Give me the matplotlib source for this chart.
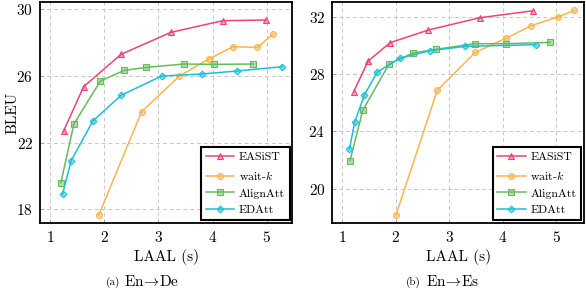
import matplotlib
matplotlib.use("Agg")
import matplotlib.pyplot as plt

plt.rcParams["font.family"] = ["cmr10", "DejaVu Serif"]
plt.rcParams["mathtext.fontset"] = "cm"
plt.rcParams["axes.formatter.use_mathtext"] = True

names = ["EASiST", "wait-$k$", "AlignAtt", "EDAtt"]
colors = ["#ee4379", "#fdb44e", "#67bb5d", "#1cbfd9"]
markers = ["^", "o", "s", "D"]

# En->De
de_easist_x = [1.25, 1.62, 2.31, 3.23, 4.19, 4.98]
de_easist_y = [22.70, 25.36, 27.30, 28.62, 29.32, 29.36]
de_waitk_x = [1.90, 2.69, 3.39, 3.94, 4.38, 4.83, 5.11]
de_waitk_y = [17.66, 23.86, 26.00, 27.04, 27.76, 27.72, 28.50]
de_align_x = [1.20, 1.44, 1.93, 2.37, 2.78, 3.47, 4.03, 4.75]
de_align_y = [19.60, 23.12, 25.70, 26.34, 26.52, 26.72, 26.70, 26.72]
de_edatt_x = [1.23, 1.39, 1.79, 2.31, 3.06, 3.80, 4.45, 5.29]
de_edatt_y = [18.90, 20.92, 23.30, 24.84, 26.00, 26.12, 26.30, 26.56]

# En->Es
es_easist_x = [1.22, 1.49, 1.90, 2.61, 3.57, 4.57]
es_easist_y = [26.77, 28.91, 30.19, 31.07, 31.93, 32.42]
es_waitk_x = [2.01, 2.78, 3.49, 4.07, 4.53, 5.04, 5.34]
es_waitk_y = [18.16, 26.86, 29.51, 30.51, 31.37, 32.00, 32.44]
es_align_x = [1.15, 1.39, 1.88, 2.33, 2.75, 3.48, 4.07, 4.89]
es_align_y = [21.95, 25.47, 28.70, 29.47, 29.72, 30.12, 30.12, 30.21]
es_edatt_x = [1.14, 1.24, 1.42, 1.66, 2.08, 2.64, 3.30, 4.62]
es_edatt_y = [22.77, 24.67, 26.54, 28.14, 29.10, 29.63, 29.93, 30.05]

de_series = [(de_easist_x, de_easist_y), (de_waitk_x, de_waitk_y),
             (de_align_x, de_align_y), (de_edatt_x, de_edatt_y)]
es_series = [(es_easist_x, es_easist_y), (es_waitk_x, es_waitk_y),
             (es_align_x, es_align_y), (es_edatt_x, es_edatt_y)]

xticks = [1, 2, 3, 4, 5]
de_yticks = [18, 22, 26, 30]
es_yticks = [20, 24, 28, 32]

fig = plt.figure(figsize=(5.86, 2.90), dpi=100)
ax1 = fig.add_axes([0.0683, 0.231, 0.4308, 0.762])
ax2 = fig.add_axes([0.5670, 0.231, 0.4296, 0.762])


def draw(ax, series, yticks, xlim, ylim):
    for (xs, ys), name, c, m in zip(series, names, colors, markers):
        ms = 3.4 if m == "D" else 4.2
        ax.plot(xs, ys, color=c, marker=m, markersize=ms, linewidth=1.1,
                markerfacecolor=c + "80", markeredgecolor=c,
                markeredgewidth=0.8, label=name)
    ax.set_xlim(*xlim)
    ax.set_ylim(*ylim)
    ax.set_xticks(xticks)
    ax.set_yticks(yticks)
    ax.grid(True, color="#c8c8c8", linestyle=(0, (4, 3)), linewidth=0.7)
    ax.set_axisbelow(True)
    for s in ax.spines.values():
        s.set_linewidth(1.3)
    ax.tick_params(direction="in", length=3, width=0.5, labelsize=11, pad=5,
                   color="#999999")
    ax.set_xlabel("LAAL (s)", fontsize=11, labelpad=3)
    leg = ax.legend(loc="lower right", fontsize=8.5, frameon=True, fancybox=False,
                    edgecolor="black", framealpha=1, borderaxespad=0.25,
                    handlelength=2.4, labelspacing=0.55, handletextpad=0.4,
                    borderpad=0.4)
    leg.get_frame().set_linewidth(1.5)


draw(ax1, de_series, de_yticks, (0.815, 5.476), (17.18, 30.44))
draw(ax2, es_series, es_yticks, (0.819, 5.52), (17.59, 33.03))
ax1.set_ylabel("BLEU", fontsize=11)
ax1.yaxis.set_label_coords(-0.082, 0.5)

fig.text(120 / 586, 1 - 282 / 290, "(a)", fontsize=8, ha="right", va="center")
fig.text(124 / 586, 1 - 282 / 290, r"En$\!\rightarrow\!$De", fontsize=11, ha="left", va="center")
fig.text(421 / 586, 1 - 282 / 290, "(b)", fontsize=8, ha="right", va="center")
fig.text(426 / 586, 1 - 282 / 290, r"En$\!\rightarrow\!$Es", fontsize=11, ha="left", va="center")

fig.savefig("out.png", dpi=100)
